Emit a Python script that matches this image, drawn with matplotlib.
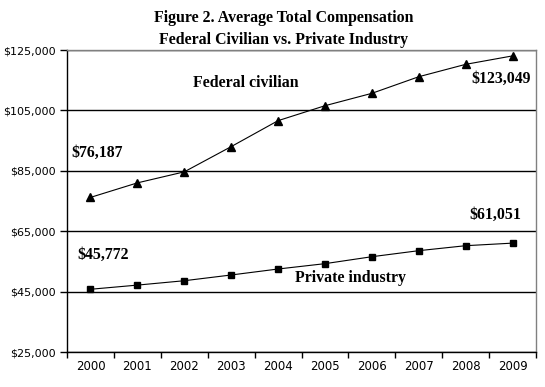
import matplotlib
matplotlib.use("Agg")
import matplotlib.pyplot as plt
from matplotlib.ticker import FixedLocator, FuncFormatter

years = ["2000", "2001", "2002", "2003", "2004", "2005", "2006", "2007", "2008", "2009"]
federal = [76187, 81000, 84650, 93000, 101600, 106550, 110650, 116150, 120250, 123049]
private = [45772, 47150, 48600, 50500, 52480, 54250, 56550, 58550, 60200, 61051]
y_ticks = [25000, 45000, 65000, 85000, 105000, 125000]

fig = plt.figure(figsize=(5.45, 3.87), dpi=100)
ax = fig.add_axes([67/545, 35/387, 469/545, 302/387])

x = list(range(len(years)))
ax.plot(x, federal, color="black", lw=0.8, marker="^", markersize=5.5, zorder=3)
ax.plot(x, private, color="black", lw=0.8, marker="s", markersize=4.5, zorder=3)

ax.set_xlim(-0.5, len(years) - 0.5)
ax.set_ylim(25000, 125000)
ax.set_yticks(y_ticks)
ax.yaxis.set_major_formatter(FuncFormatter(lambda v, p: f"${int(v):,}"))
ax.grid(axis="y", color="black", lw=1.0)
ax.set_axisbelow(True)

ax.xaxis.set_major_locator(FixedLocator([i - 0.5 for i in range(len(years) + 1)]))
ax.xaxis.set_major_formatter(FuncFormatter(lambda v, p: ""))
ax.xaxis.set_minor_locator(FixedLocator(x))
ax.set_xticklabels(years, minor=True)
ax.tick_params(axis="x", which="minor", length=0, pad=6, labelsize=8.5)
ax.tick_params(axis="x", which="major", length=4, width=1, direction="out")
ax.tick_params(axis="y", length=5, width=1, direction="out", labelsize=8, pad=3)

for s in ["top", "right"]:
    ax.spines[s].set_color("#808080")
    ax.spines[s].set_linewidth(1)
for s in ["left", "bottom"]:
    ax.spines[s].set_color("black")
    ax.spines[s].set_linewidth(1)

serif = "Liberation Serif"
fig.text(284/545, 1 - 18/387, "Figure 2. Average Total Compensation", ha="center", va="center",
         fontfamily=serif, fontweight="bold", fontsize=11.4)
fig.text(284/545, 1 - 40/387, "Federal Civilian vs. Private Industry", ha="center", va="center",
         fontfamily=serif, fontweight="bold", fontsize=11.4)

kw = dict(fontfamily=serif, fontweight="bold", fontsize=11.4, va="center", clip_on=False)
ax.text(3.32, 114200, "Federal civilian", ha="center", **kw)
ax.text(8.13, 115400, "$123,049", ha="left", **kw)
ax.text(-0.415, 90960, "$76,187", ha="left", **kw)
ax.text(8.07, 70300, "$61,051", ha="left", **kw)
ax.text(-0.287, 57050, "$45,772", ha="left", **kw)
ax.text(5.555, 49530, "Private industry", ha="center", **kw)

fig.savefig("out.png", dpi=100)
